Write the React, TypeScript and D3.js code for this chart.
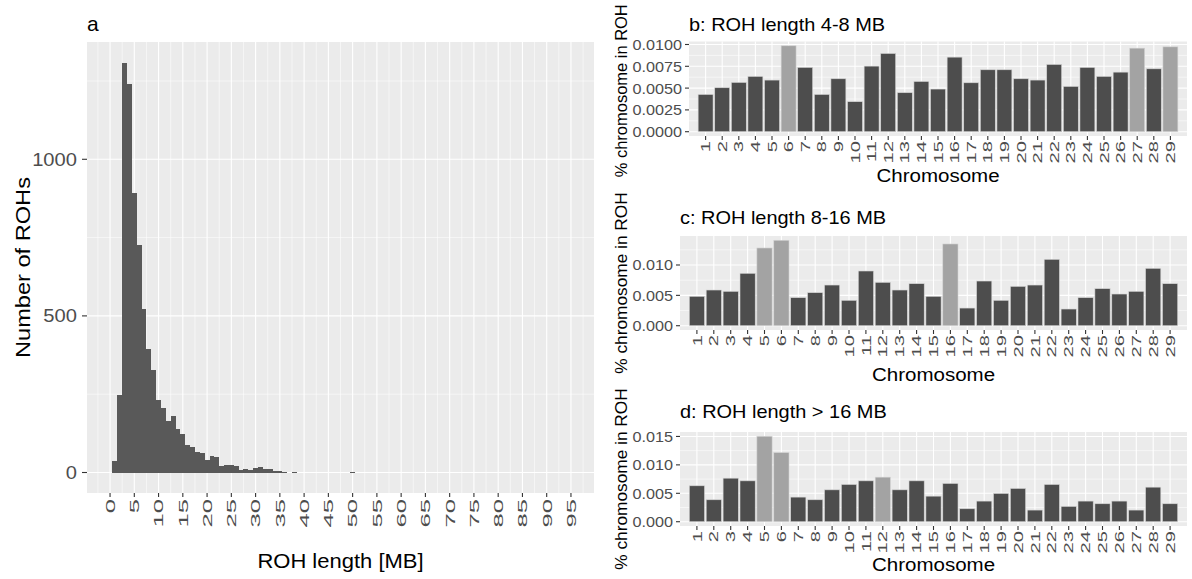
import React from 'react';
import * as d3 from 'd3';

const FONT = '"Liberation Sans", Arial, Helvetica, sans-serif';

// panel a: histogram of ROH lengths, 1 MB bins starting at 0.5 MB
const ROH_BIN_START = 0.5;
const ROH_BIN_WIDTH = 1;
const ROH_COUNTS = [
  36, 249, 1309, 1241, 893, 727, 523, 393, 327, 233,
  207, 164, 180, 139, 122, 89, 82, 65, 61, 40,
  53, 48, 20, 24, 24, 20, 8, 12, 8, 14,
  16, 12, 11, 4, 4, 3, 0, 3, 0, 0,
  0, 0, 0, 0, 0, 0, 0, 0, 0, 3,
];
const ROH_X_BREAKS = [0, 5, 10, 15, 20, 25, 30, 35, 40, 45, 50, 55, 60, 65, 70, 75, 80, 85, 90, 95];
const ROH_Y_BREAKS = [0, 500, 1000];

// panels b-d: share of each chromosome in ROH
const CHROMOSOMES = [
  '1', '2', '3', '4', '5', '6', '7', '8', '9', '10',
  '11', '12', '13', '14', '15', '16', '17', '18', '19', '20',
  '21', '22', '23', '24', '25', '26', '27', '28', '29',
];
const SHARE_4_8 = [
  0.00427, 0.00504, 0.00565, 0.00634, 0.00592, 0.00985, 0.00737, 0.00427, 0.00607, 0.00344,
  0.00752, 0.00897, 0.00447, 0.00576, 0.00489, 0.00855, 0.00561, 0.0071, 0.0071, 0.00607,
  0.00592, 0.00771, 0.00519, 0.00737, 0.00634, 0.00683, 0.00958, 0.00721, 0.00973,
];
const SHARE_8_16 = [
  0.00484, 0.00588, 0.00566, 0.00863, 0.0128, 0.01407, 0.00462, 0.00544, 0.0067, 0.00418,
  0.00901, 0.00714, 0.00588, 0.00692, 0.00484, 0.01346, 0.00291, 0.00736, 0.00418, 0.00648,
  0.0067, 0.01093, 0.00275, 0.00462, 0.0061, 0.00522, 0.00566, 0.00945, 0.00692,
];
const SHARE_16_PLUS = [
  0.00632, 0.00386, 0.00766, 0.00719, 0.01503, 0.01216, 0.00433, 0.00386, 0.00561, 0.00655,
  0.00719, 0.00784, 0.00561, 0.00719, 0.0045, 0.00673, 0.00228, 0.00363, 0.00497, 0.00585,
  0.00205, 0.00655, 0.00269, 0.00363, 0.00316, 0.00363, 0.00205, 0.00608, 0.00316,
];
const HIGHLIGHT_4_8 = ['6', '27', '29'];
const HIGHLIGHT_8_16 = ['5', '6', '16'];
const HIGHLIGHT_16_PLUS = ['5', '6', '12'];
const BREAKS_4_8 = [0, 0.0025, 0.005, 0.0075, 0.01];
const BREAKS_8_16 = [0, 0.005, 0.01];
const BREAKS_16_PLUS = [0, 0.005, 0.01, 0.015];

const PANEL_BG = '#EBEBEB';
const TICK_COL = '#333333';
const LABEL_COL = '#4D4D4D';

function Txt({ x, y, rot = 0, sx = 1, size, fill = '#000', anchor = 'start', dy = '0', children }: any) {
  return (
    <text
      transform={`translate(${x},${y}) rotate(${rot}) scale(${sx},1)`}
      fontSize={size}
      fill={fill}
      textAnchor={anchor}
      dy={dy}
      fontFamily={FONT}
    >
      {children}
    </text>
  );
}

function minorBreaks(breaks: number[], domain: number[]) {
  const step = breaks[1] - breaks[0];
  const out: number[] = [];
  for (let i = -1; i < breaks.length; i += 1) {
    const m = breaks[0] + (i + 0.5) * step;
    if (m > domain[0] && m < domain[1]) out.push(m);
  }
  return out;
}

function Histogram() {
  const left = 87;
  const right = 594;
  const top = 42;
  const bottom = 493;
  const maxCount = d3.max(ROH_COUNTS) as number;
  const x = d3.scaleLinear().domain([-4.75, 99.75]).range([left, right]);
  const y = d3.scaleLinear().domain([-0.05 * maxCount, 1.05 * maxCount]).range([bottom, top]);
  const xMinor = minorBreaks(ROH_X_BREAKS, x.domain());
  const yMinor = minorBreaks(ROH_Y_BREAKS, y.domain());

  return (
    <g>
      <rect x={left} y={top} width={right - left} height={bottom - top} fill={PANEL_BG} />
      {yMinor.map((v) => (
        <line key={`ym${v}`} x1={left} x2={right} y1={y(v)} y2={y(v)} stroke="#fff" strokeWidth={0.55} />
      ))}
      {xMinor.map((v) => (
        <line key={`xm${v}`} x1={x(v)} x2={x(v)} y1={top} y2={bottom} stroke="#fff" strokeWidth={0.55} />
      ))}
      {ROH_Y_BREAKS.map((v) => (
        <line key={`y${v}`} x1={left} x2={right} y1={y(v)} y2={y(v)} stroke="#fff" strokeWidth={1.1} />
      ))}
      {ROH_X_BREAKS.map((v) => (
        <line key={`x${v}`} x1={x(v)} x2={x(v)} y1={top} y2={bottom} stroke="#fff" strokeWidth={1.1} />
      ))}
      {ROH_COUNTS.map((c, i) => {
        if (!c) return null;
        const x0 = ROH_BIN_START + i * ROH_BIN_WIDTH;
        return (
          <rect
            key={`b${i}`}
            x={x(x0)}
            width={x(x0 + ROH_BIN_WIDTH) - x(x0)}
            y={y(c)}
            height={y(0) - y(c)}
            fill="#595959"
            shapeRendering="crispEdges"
          />
        );
      })}
      {ROH_Y_BREAKS.map((v) => (
        <g key={`yt${v}`}>
          <line x1={left - 5} x2={left} y1={y(v)} y2={y(v)} stroke={TICK_COL} strokeWidth={1.1} />
          <Txt x={left - 10} y={y(v)} dy="0.36em" size={18} sx={1.12} anchor="end" fill={LABEL_COL}>
            {v}
          </Txt>
        </g>
      ))}
      {ROH_X_BREAKS.map((v) => (
        <g key={`xt${v}`}>
          <line x1={x(v)} x2={x(v)} y1={bottom} y2={bottom + 4} stroke={TICK_COL} strokeWidth={1.1} />
          <Txt x={x(v)} y={bottom + 6} rot={-90} sx={1.9} dy="0.36em" size={13.5} anchor="end" fill={LABEL_COL}>
            {v}
          </Txt>
        </g>
      ))}
      <Txt x={left} y={31} size={21}>a</Txt>
      <Txt x={30} y={(top + bottom) / 2} rot={-90} sx={1.18} size={20} anchor="middle">
        Number of ROHs
      </Txt>
      <Txt x={(left + right) / 2} y={568} sx={1.1} size={20} anchor="middle">
        ROH length [MB]
      </Txt>
    </g>
  );
}

function ChromPanel({ title, values, highlight, breaks, decimals, left, top, bottom, titleY, xTitleY, yTitleShift = 0, yTitleSx = 1.08 }: any) {
  const right = 1187;
  const maxV = d3.max(values as number[]) as number;
  const x = d3.scaleBand().domain(CHROMOSOMES).range([left, right]).paddingInner(0.1).paddingOuter(0.55);
  const y = d3.scaleLinear().domain([-0.05 * maxV, 1.05 * maxV]).range([bottom, top]);
  const yMinor = minorBreaks(breaks, y.domain());
  const fmt = d3.format(`.${decimals}f`);
  const cx = (c: string) => (x(c) as number) + x.bandwidth() / 2;

  return (
    <g>
      <rect x={left} y={top} width={right - left} height={bottom - top} fill={PANEL_BG} />
      {yMinor.map((v) => (
        <line key={`ym${v}`} x1={left} x2={right} y1={y(v)} y2={y(v)} stroke="#fff" strokeWidth={0.55} />
      ))}
      {breaks.map((v: number) => (
        <line key={`y${v}`} x1={left} x2={right} y1={y(v)} y2={y(v)} stroke="#fff" strokeWidth={1.1} />
      ))}
      {CHROMOSOMES.map((c) => (
        <line key={`x${c}`} x1={cx(c)} x2={cx(c)} y1={top} y2={bottom} stroke="#fff" strokeWidth={1.1} />
      ))}
      {CHROMOSOMES.map((c, i) => (
        <rect
          key={`bar${c}`}
          x={x(c)}
          width={x.bandwidth()}
          y={y(values[i])}
          height={y(0) - y(values[i])}
          fill={highlight.includes(c) ? '#A3A3A3' : '#4D4D4D'}
          stroke="#d4d4d4"
          strokeWidth={0.6}
        />
      ))}
      {breaks.map((v: number) => (
        <g key={`yt${v}`}>
          <line x1={left - 4} x2={left} y1={y(v)} y2={y(v)} stroke={TICK_COL} strokeWidth={1.1} />
          <Txt x={left - 7} y={y(v)} dy="0.36em" size={15} sx={1.08} anchor="end" fill={LABEL_COL}>
            {fmt(v)}
          </Txt>
        </g>
      ))}
      {CHROMOSOMES.map((c) => (
        <g key={`xt${c}`}>
          <line x1={cx(c)} x2={cx(c)} y1={bottom} y2={bottom + 4} stroke={TICK_COL} strokeWidth={1.1} />
          <Txt x={cx(c)} y={bottom + 5} rot={-90} sx={1.55} dy="0.36em" size={13} anchor="end" fill={LABEL_COL}>
            {c}
          </Txt>
        </g>
      ))}
      <Txt x={left} y={titleY} size={19} sx={1.05}>{title}</Txt>
      <Txt x={(left + right) / 2} y={xTitleY} size={19} sx={1.08} anchor="middle">Chromosome</Txt>
      <Txt x={627} y={(top + bottom) / 2 + yTitleShift} rot={-90} sx={yTitleSx} size={16} anchor="middle">
        % chromosome in ROH
      </Txt>
    </g>
  );
}

export default function App() {
  return (
    <svg
      width={1192}
      height={579}
      style={{ position: 'absolute', left: 0, top: 0, background: '#fff' }}
    >
      <rect width={1192} height={579} fill="#fff" />
      <Histogram />
      <ChromPanel
        title="b: ROH length 4-8 MB"
        values={SHARE_4_8}
        highlight={HIGHLIGHT_4_8}
        breaks={BREAKS_4_8}
        decimals={4}
        left={689}
        top={41.5}
        bottom={136}
        titleY={31}
        xTitleY={182}
        yTitleShift={2}
        yTitleSx={1.03}
      />
      <ChromPanel
        title="c: ROH length 8-16 MB"
        values={SHARE_8_16}
        highlight={HIGHLIGHT_8_16}
        breaks={BREAKS_8_16}
        decimals={3}
        left={680}
        top={236}
        bottom={330}
        titleY={224}
        xTitleY={381}
      />
      <ChromPanel
        title="d: ROH length > 16 MB"
        values={SHARE_16_PLUS}
        highlight={HIGHLIGHT_16_PLUS}
        breaks={BREAKS_16_PLUS}
        decimals={3}
        left={680}
        top={432}
        bottom={526}
        titleY={418}
        xTitleY={571}
      />
    </svg>
  );
}
